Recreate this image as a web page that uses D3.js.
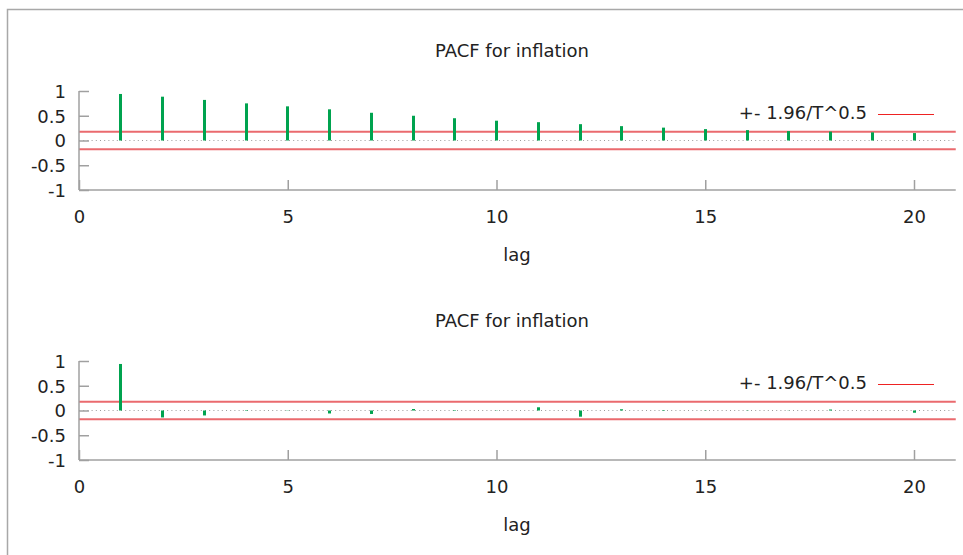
<!DOCTYPE html>
<html>
<head>
<meta charset="utf-8">
<script src="https://cdn.jsdelivr.net/npm/d3@7"></script>
<style>
  body { margin: 0; background: #fff; }
  svg { display: block; font-family: "DejaVu Sans", sans-serif; }
</style>
</head>
<body>
<div id="chart"></div>
<script>
// chart data
var lags = [1, 2, 3, 4, 5, 6, 7, 8, 9, 10, 11, 12, 13, 14, 15, 16, 17, 18, 19, 20];
var topValues = [0.94, 0.885, 0.82, 0.75, 0.69, 0.63, 0.56, 0.50, 0.45, 0.40,
                 0.37, 0.33, 0.29, 0.26, 0.23, 0.21, 0.19, 0.18, 0.165, 0.15];
var bottomValues = [0.94, -0.14, -0.10, -0.01, 0.005, -0.06, -0.07, 0.03, 0.01, 0.005,
                    0.065, -0.125, 0.025, 0.01, 0.005, 0.005, -0.003, 0.02, 0.0, -0.045];
var band = 0.178;
var xTicks = [0, 5, 10, 15, 20];
var yTicks = [-1, -0.5, 0, 0.5, 1];
var titles = ["PACF for inflation", "PACF for inflation"];
var legendLabel = "+- 1.96/T^0.5";

var width = 963,
    height = 555;

var svg = d3.select("#chart")
  .append("svg")
    .attr("width", width)
    .attr("height", height);

// outer frame (only top and left edges visible)
svg.append("path")
  .attr("d", "M7.5," + height + "V9.5H" + width)
  .attr("fill", "none")
  .attr("stroke", "#a8a8a8")
  .attr("stroke-width", 1.5);

var x = d3.scaleLinear().domain([0, 21]).range([79, 955.75]);

function panel(values, title, top) {
  var y = d3.scaleLinear().domain([-1, 1]).range([top + 99, top]);
  var g = svg.append("g");

  g.append("text")
    .attr("x", 512)
    .attr("y", top - 39)
    .attr("text-anchor", "middle")
    .attr("dominant-baseline", "middle")
    .style("font-size", "18px")
    .attr("fill", "#222")
    .text(title);

  // zero line
  g.append("line")
    .attr("x1", x(0)).attr("x2", x(21))
    .attr("y1", y(0)).attr("y2", y(0))
    .attr("stroke", "#9a9a9a")
    .attr("stroke-dasharray", "1,3.2");

  // confidence band
  [band, -band].forEach(function(b) {
    g.append("line")
      .attr("x1", x(0)).attr("x2", x(21))
      .attr("y1", y(b)).attr("y2", y(b))
      .attr("stroke", "#ea6a6e")
      .attr("stroke-width", 2);
  });

  // bars
  g.selectAll("rect.bar")
    .data(lags)
    .enter()
    .append("rect")
      .attr("class", "bar")
      .attr("x", function(d) { return Math.round(x(d) - 1.5); })
      .attr("width", 3)
      .attr("y", function(d, i) { return y(Math.max(0, values[i])); })
      .attr("height", function(d, i) { return Math.abs(y(values[i]) - y(0)); })
      .attr("fill", "#00a34f");

  // axes
  var yAxis = g.append("g")
    .attr("transform", "translate(" + x(0) + ",0)")
    .call(d3.axisLeft(y).tickValues(yTicks).tickSize(-10).tickPadding(13)
      .tickFormat(function(d) { return d; }));
  var xAxis = g.append("g")
    .attr("transform", "translate(0," + y(-1) + ")")
    .call(d3.axisBottom(x).tickValues(xTicks).tickSize(-10).tickPadding(20));
  [yAxis, xAxis].forEach(function(a) {
    a.select(".domain").attr("stroke", "#a0a0a0").attr("stroke-width", 1.5);
    a.selectAll(".tick line").attr("stroke", "#a0a0a0").attr("stroke-width", 1.5);
    a.selectAll(".tick text")
      .style("font-size", "18px")
      .style("font-family", "DejaVu Sans, sans-serif")
      .attr("fill", "#222");
  });
  yAxis.select(".domain").attr("d", "M0," + y(1) + "V" + y(-1));
  xAxis.select(".domain").attr("d", "M" + x(0) + ",0H" + x(21));
  yAxis.selectAll(".tick text").attr("dy", "0.36em");

  g.append("text")
    .attr("x", 517)
    .attr("y", top + 165)
    .attr("text-anchor", "middle")
    .attr("dominant-baseline", "middle")
    .style("font-size", "18px")
    .attr("fill", "#222")
    .text("lag");

  // legend
  g.append("text")
    .attr("x", 867)
    .attr("y", top + 23)
    .attr("text-anchor", "end")
    .attr("dominant-baseline", "middle")
    .style("font-size", "18px")
    .attr("fill", "#222")
    .text(legendLabel);
  g.append("line")
    .attr("x1", 878).attr("x2", 934)
    .attr("y1", top + 23.5).attr("y2", top + 23.5)
    .attr("stroke", "#ee2222")
    .attr("stroke-width", 1);
}

panel(topValues, titles[0], 91);
panel(bottomValues, titles[1], 361);
</script>
</body>
</html>
